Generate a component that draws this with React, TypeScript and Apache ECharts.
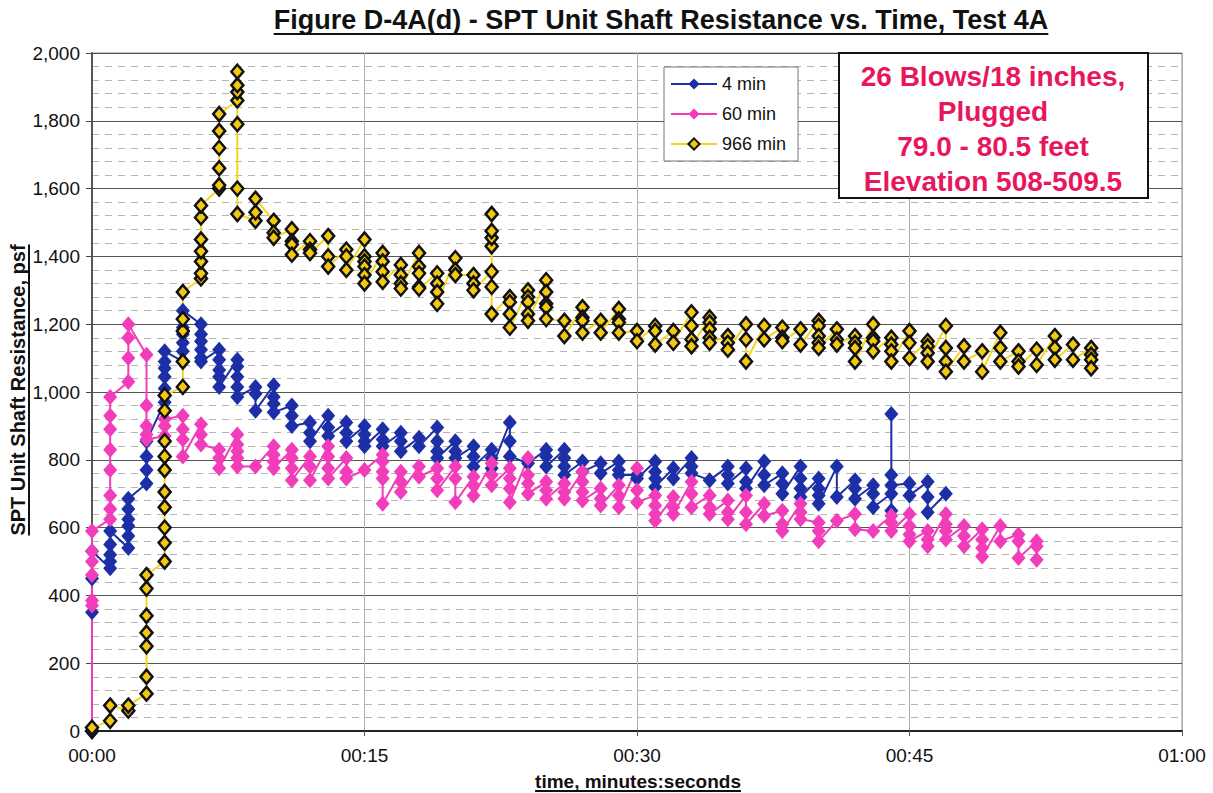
import React, { useEffect, useRef } from "react";
import * as echarts from "echarts";

const TITLE = "Figure D-4A(d) - SPT Unit Shaft Resistance vs. Time, Test 4A";
const X_NAME = "time, minutes:seconds";
const Y_NAME = "SPT Unit Shaft Resistance, psf";
const NOTE_LINES = ["26 Blows/18 inches,", "Plugged", "79.0 - 80.5 feet", "Elevation 508-509.5"];
const SERIES_NAMES = ["4 min", "60 min", "966 min"];

// seconds of each column of readings
const secs4 = [0,1,2,3,4,5,6,7,8,9,10,11,12,13,14,15,16,17,18,19,20,21,22,23,24,25,26,27,28,29,30,31,32,33,34,35,36,37,38,39,40,41,42,43,44,45,46,47];
const secs60 = [0,1,2,3,4,5,6,7,8,9,10,11,12,13,14,15,16,17,18,19,20,21,22,23,24,25,26,27,28,29,30,31,32,33,34,35,36,37,38,39,40,41,42,43,44,45,46,47,48,49,50,51,52];
const secs966 = [0,1,2,3,4,5,6,7,8,9,10,11,12,13,14,15,16,17,18,19,20,21,22,23,24,25,26,27,28,29,30,31,32,33,34,35,36,37,38,39,40,41,42,43,44,45,46,47,48,49,50,51,52,53,54,55];

// psf readings at each second (in recorded order)
const vals4 = [
  [350, 450, 530], [480, 500, 520, 550, 590], [540, 575, 605, 625, 655, 685], [730, 770, 810, 855],
  [970, 1010, 1045, 1070, 1090, 1120], [1090, 1120, 1145, 1170, 1190, 1215, 1240],
  [1200, 1170, 1150, 1125, 1100, 1090], [1125, 1095, 1065, 1045, 1015], [1095, 1075, 1045, 1015, 985],
  [1015, 995, 945], [1020, 985, 965, 940], [960, 930, 900], [910, 880, 855], [930, 895, 870],
  [910, 880, 855], [900, 875, 855, 840], [890, 860, 840], [880, 855, 825], [865, 840],
  [895, 855, 825, 805], [855, 825, 805], [840, 810, 780], [830, 805, 775], [910, 855, 810],
  [790], [830, 810, 780], [830, 805, 780, 755], [795, 765], [790, 760], [795, 770, 755],
  [755, 745], [795, 765, 745, 720], [775, 745], [805, 780, 760], [740], [780, 755, 730],
  [775, 735, 715], [795, 755, 725], [760, 730, 700], [780, 745, 715, 690], [745, 715, 695, 670],
  [780, 690], [740, 715, 685], [725, 700, 660], [700, 650, 935, 755, 725], [730, 695],
  [735, 690, 645], [700]
];
const vals60 = [
  [0, 370, 385, 460, 500, 530, 590], [625, 655, 695, 770, 830, 890, 930, 985], [1030, 1100, 1160, 1200],
  [1110, 960, 900, 875, 860], [870, 900, 920], [930, 890, 860, 810], [905, 875, 845], [830, 805, 775],
  [875, 845, 825, 805, 780], [780], [840, 815, 795, 775], [830, 805, 775, 740], [810, 780, 740],
  [840, 810, 775, 745], [805, 765, 745], [770], [815, 795, 765, 745, 670], [765, 735, 705],
  [780, 750], [775, 745, 710], [780, 745, 675], [750, 725, 695], [790, 755, 725],
  [775, 745, 715, 675], [805, 755, 730, 700], [735, 710, 685], [730, 705, 685], [765, 735, 705, 680],
  [715, 685, 665], [725, 695, 660], [775, 710, 675], [695, 665, 640, 620], [690, 660, 640],
  [735, 700, 660], [695, 660, 640], [680, 645, 625], [695, 645, 610], [670, 635], [650, 610, 590],
  [670, 645, 625], [615, 590, 560], [620], [640, 595], [590], [635, 615, 590], [640, 605, 580, 560],
  [590, 565, 545], [640, 610, 590, 565], [605, 575, 545], [595, 565, 540, 515], [605, 560],
  [580, 560, 510], [560, 545, 505]
];
const vals966 = [
  [0, 10], [30, 75], [60, 75], [110, 160, 250, 290, 340, 420, 460],
  [500, 555, 600, 660, 705, 770, 810, 855, 945, 990], [1015, 1090, 1180, 1215, 1295],
  [1335, 1350, 1385, 1415, 1450, 1515, 1550], [1600, 1610, 1660, 1720, 1770, 1820],
  [1860, 1885, 1905, 1945, 1790, 1600, 1525], [1505, 1530, 1570], [1505, 1470, 1455],
  [1480, 1445, 1435, 1405], [1445, 1420, 1410], [1460, 1400, 1370], [1420, 1400, 1360],
  [1450, 1400, 1385, 1370, 1345, 1320], [1410, 1385, 1355, 1325], [1375, 1345, 1320, 1305],
  [1410, 1370, 1350, 1310, 1305], [1350, 1320, 1295, 1260], [1395, 1360, 1345], [1345, 1320, 1300],
  [1355, 1430, 1455, 1475, 1525, 1310, 1230], [1280, 1265, 1230, 1190], [1300, 1280, 1265, 1230, 1210],
  [1330, 1295, 1260, 1250, 1215], [1210, 1165], [1250, 1220, 1210, 1175], [1210, 1175],
  [1245, 1215, 1205, 1175], [1180, 1150], [1195, 1180, 1140], [1180, 1145], [1235, 1195, 1155, 1135],
  [1220, 1205, 1185, 1160, 1145], [1165, 1145, 1125], [1200, 1155, 1090], [1195, 1155],
  [1190, 1160, 1150], [1185, 1140], [1210, 1195, 1165, 1145, 1130], [1185, 1155, 1140],
  [1165, 1145, 1130, 1090], [1200, 1160, 1150, 1120], [1160, 1140, 1120, 1090], [1180, 1145, 1100],
  [1150, 1135, 1115, 1090], [1195, 1130, 1090, 1060], [1135, 1090], [1120, 1060], [1175, 1130, 1090],
  [1120, 1090, 1075], [1125, 1080], [1165, 1130, 1095], [1140, 1095], [1130, 1110, 1095, 1070]
];

const FONT = "'Liberation Sans', Arial, Helvetica, sans-serif";
const RED = "#E8175D";

function toPairs(secs: number[], vals: number[][]) {
  const out: number[][] = [];
  secs.forEach((s, i) => vals[i].forEach((v) => out.push([s, v])));
  return out;
}

function measure(text: string, font: string) {
  const c = document.createElement("canvas").getContext("2d");
  if (!c) return text.length * 10;
  c.font = font;
  return c.measureText(text).width;
}

function pad(n: number) {
  return (n < 10 ? "0" : "") + n;
}

export default function App() {
  const ref = useRef<HTMLDivElement>(null);
  useEffect(() => {
    if (!ref.current) return;
    const chart = echarts.init(ref.current, undefined, { renderer: "svg" });

    const titleFont = `bold 27px ${FONT}`;
    const nameFont = `bold 20px ${FONT}`;
    const xNameFont = `bold 19px ${FONT}`;
    const tW = measure(TITLE, titleFont);
    const xW = measure(X_NAME, xNameFont);
    const yW = measure(Y_NAME, nameFont);
    const titleX = 661, titleY = 20;
    const xNameX = 638, xNameY = 781;
    const yNameX = 18, yNameY = 390;

    const option: any = {
      animation: false,
      backgroundColor: "#fff",
      grid: { left: 92, right: 31, top: 53, bottom: 62, show: true, borderColor: "#8a8a9a", borderWidth: 1 },
      xAxis: {
        type: "value", min: 0, max: 60, interval: 15,
        axisLine: { show: true, lineStyle: { color: "#222", width: 2 } },
        axisTick: { show: true, length: 5, lineStyle: { color: "#555" } },
        axisLabel: { color: "#111", fontSize: 19, fontFamily: FONT, margin: 15,
          formatter: (v: number) => pad(Math.floor(v / 60)) + ":" + pad(v % 60) },
        splitLine: { show: true, lineStyle: { color: "#b0b0b0", width: 1 } },
      },
      yAxis: {
        type: "value", min: 0, max: 2000, interval: 200,
        axisLine: { show: true, lineStyle: { color: "#555", width: 2 } },
        axisTick: { show: true, length: 6, lineStyle: { color: "#444" } },
        axisLabel: { color: "#111", fontSize: 19, fontFamily: FONT, margin: 12,
          formatter: (v: number) => v.toLocaleString("en-US") },
        splitLine: { show: true, lineStyle: { color: "#555", width: 1 } },
        minorTick: { show: false, splitNumber: 5 },
        minorSplitLine: { show: true, lineStyle: { color: "#b5b5b5", width: 1, type: [7, 6] } },
      },
      legend: {
        orient: "vertical", left: 664, top: 67, itemWidth: 46, itemHeight: 14, itemGap: 12,
        padding: [8, 12, 8, 6], borderColor: "#777", borderWidth: 1, backgroundColor: "#fff",
        textStyle: { fontSize: 18, fontFamily: FONT, color: "#111" },
        data: SERIES_NAMES,
      },
      series: [
        {
          name: SERIES_NAMES[0], type: "line", data: toPairs(secs4, vals4),
          symbol: "diamond", symbolSize: [14, 16], showSymbol: true,
          lineStyle: { color: "#1C2FA6", width: 2 },
          itemStyle: { color: "#1C2FA6" },
        },
        {
          name: SERIES_NAMES[1], type: "line", data: toPairs(secs60, vals60),
          symbol: "diamond", symbolSize: [14, 16], showSymbol: true,
          lineStyle: { color: "#F23DBA", width: 2 },
          itemStyle: { color: "#F23DBA" },
        },
        {
          name: SERIES_NAMES[2], type: "line", data: toPairs(secs966, vals966),
          symbol: "diamond", symbolSize: [12, 14], showSymbol: true,
          lineStyle: { color: "#F7D51E", width: 2 },
          itemStyle: { color: "#F2C811", borderColor: "#111", borderWidth: 2.5 },
        },
      ],
      graphic: [
        { type: "text", x: titleX, y: titleY, z: 100,
          style: { text: TITLE, font: titleFont, fill: "#111", textAlign: "center", textVerticalAlign: "middle" } },
        { type: "line", z: 100, shape: { x1: titleX - tW / 2, y1: titleY + 14, x2: titleX + tW / 2, y2: titleY + 14 },
          style: { stroke: "#111", lineWidth: 2 } },
        { type: "text", x: xNameX, y: xNameY, z: 100,
          style: { text: X_NAME, font: xNameFont, fill: "#111", textAlign: "center", textVerticalAlign: "middle" } },
        { type: "line", z: 100, shape: { x1: xNameX - xW / 2, y1: xNameY + 10, x2: xNameX + xW / 2, y2: xNameY + 10 },
          style: { stroke: "#111", lineWidth: 2 } },
        { type: "group", x: yNameX, y: yNameY, rotation: Math.PI / 2, z: 100,
          children: [
            { type: "text", x: 0, y: 0,
              style: { text: Y_NAME, font: nameFont, fill: "#111", textAlign: "center", textVerticalAlign: "middle" } },
            { type: "line", shape: { x1: -yW / 2, y1: 11, x2: yW / 2, y2: 11 },
              style: { stroke: "#111", lineWidth: 2 } },
          ] },
        { type: "rect", z: 100, shape: { x: 839, y: 53, width: 309, height: 145 },
          style: { fill: "#fff", stroke: "#111", lineWidth: 2 } },
        ...NOTE_LINES.map((t, i) => ({
          type: "text", z: 101, x: 993, y: 76 + i * 35,
          style: { text: t, font: `bold 28px ${FONT}`, fill: RED, textAlign: "center", textVerticalAlign: "middle" },
        })),
      ],
    };
    chart.setOption(option);
    return () => chart.dispose();
  }, []);
  return (
    <div ref={ref} style={{ position: "fixed", left: 0, top: 0, width: 1213, height: 793, background: "#fff" }} />
  );
}
